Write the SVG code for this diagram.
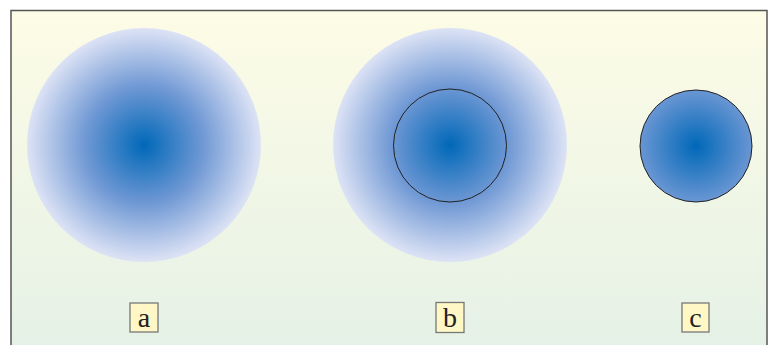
<svg xmlns="http://www.w3.org/2000/svg" width="771" height="345" viewBox="0 0 771 345">
<defs>
<linearGradient id="bg" x1="0" y1="0" x2="0" y2="1">
<stop offset="0" stop-color="#fdfce6"/>
<stop offset="1" stop-color="#e5f1e6"/>
</linearGradient>
<radialGradient id="ga" gradientUnits="userSpaceOnUse" cx="144" cy="145" r="117">
<stop offset="0" stop-color="#0068b8"/>
<stop offset="0.5" stop-color="#6f98d4"/>
<stop offset="1" stop-color="#dde3f5"/>
</radialGradient>
<radialGradient id="gb" gradientUnits="userSpaceOnUse" cx="450" cy="145" r="117">
<stop offset="0" stop-color="#0068b8"/>
<stop offset="0.5" stop-color="#6f98d4"/>
<stop offset="1" stop-color="#dde3f5"/>
</radialGradient>
<radialGradient id="gc" gradientUnits="userSpaceOnUse" cx="696" cy="146" r="117">
<stop offset="0" stop-color="#0068b8"/>
<stop offset="0.5" stop-color="#6f98d4"/>
<stop offset="1" stop-color="#dde3f5"/>
</radialGradient>
<style>
.lbl rect{fill:#fff8c6;stroke:#777;stroke-width:1.3}
.lbl text{font-family:"Liberation Serif",serif;font-size:28px;fill:#222;text-anchor:middle}
.ring{fill:none;stroke:#222;stroke-width:1}
</style>
</defs>
<rect x="0" y="0" width="771" height="345" fill="#fff"/>
<rect x="11" y="10.5" width="756" height="340" fill="url(#bg)" stroke="#555" stroke-width="1.5"/>
<g id="a">
<circle cx="144" cy="145" r="117" fill="url(#ga)"/>
</g>
<g id="b">
<circle cx="450" cy="145" r="117" fill="url(#gb)"/>
<circle class="ring" cx="450" cy="145.5" r="56.5"/>
</g>
<g id="c">
<circle cx="696" cy="146" r="56" fill="url(#gc)" stroke="#222" stroke-width="1"/>
</g>
<g id="label-a" class="lbl"><rect x="130" y="303" width="28" height="29"/><text x="144" y="327">a</text></g>
<g id="label-b" class="lbl"><rect x="436" y="302.5" width="28" height="30"/><text x="450" y="327">b</text></g>
<g id="label-c" class="lbl"><rect x="682" y="303" width="27" height="29"/><text x="695.5" y="327">c</text></g>
<g id="connectors"/>
</svg>
